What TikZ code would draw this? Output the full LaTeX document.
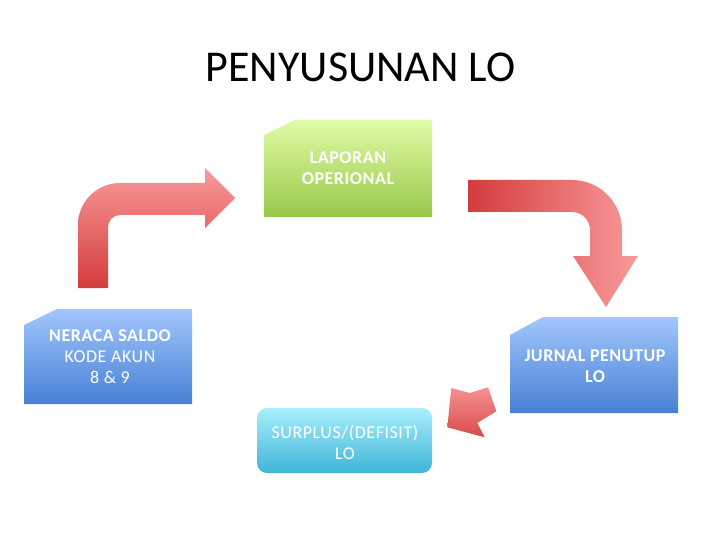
\documentclass[tikz,border=0pt]{standalone}
\usepackage{fontspec}
\setmainfont{Carlito}
\usepackage{xcolor}
\usepackage{tikz}

\definecolor{greentop}{HTML}{DFFCA6}
\definecolor{greenbot}{HTML}{98C84A}
\definecolor{bluetop}{HTML}{A2C6FC}
\definecolor{bluebot}{HTML}{4680D4}
\definecolor{cyantop}{HTML}{A8EFFD}
\definecolor{cyanbot}{HTML}{40B4D6}
\definecolor{redlight}{HTML}{F99A9A}
\definecolor{reddark}{HTML}{D43C3C}

\begin{document}
\begin{tikzpicture}[x=1pt,y=-1pt,
		boxtext/.style={text=white,align=center,font=\fontsize{18}{21}\selectfont\addfontfeatures{LetterSpace=3}},
		redarrow/.style={draw=none}]
		\useasboundingbox (0,0) rectangle (720,540);
		\node (title) at (360.5,67) {\fontsize{44}{50}\selectfont PENYUSUNAN LO};
		% boxes
		\shade[top color=greentop,bottom color=greenbot] (295,120) -- (432,120) -- (432,217) -- (264,217) -- (264,135) -- cycle;
		\node[boxtext] (lap) at (348,168.5) {\bfseries LAPORAN\\\bfseries OPERIONAL};
		\shade[top color=bluetop,bottom color=bluebot] (57,309) -- (192,309) -- (192,404) -- (24,404) -- (24,325) -- cycle;
		\node[boxtext] (ner) at (110,356.5) {\bfseries NERACA SALDO\\KODE AKUN\\8 \& 9};
		\shade[top color=bluetop,bottom color=bluebot] (543,317) -- (678,317) -- (678,413) -- (510,413) -- (510,335) -- cycle;
		\node[boxtext] (jur) at (595,366) {\bfseries JURNAL PENUTUP\\\bfseries LO};
		\shade[top color=cyantop,bottom color=cyanbot,rounded corners=10pt] (257,408) rectangle (432,473);
		\node[boxtext] (sur) at (345,442) {SURPLUS/(DEFISIT)\\LO};
		% arrows
		\shade[redarrow,top color=redlight,middle color=redlight,bottom color=reddark]
			(78,288) -- (78,225) arc[start angle=180,end angle=270,radius=42]
			-- (205,183) -- (205,168) -- (235,198) -- (205,228) -- (205,215)
			-- (120,215) arc[start angle=270,end angle=180,radius=12] -- (108,288) -- cycle;
		\shade[redarrow,left color=reddark,middle color=redlight,right color=redlight]
			(468,180) -- (572,180) arc[start angle=270,end angle=360,radius=50]
			-- (622,256) -- (638,256) -- (606,307) -- (573,256) -- (590,256)
			-- (590,230) arc[start angle=0,end angle=-90,radius=18] -- (468,212) -- cycle;
		\shade[redarrow,shading angle=30,top color=redlight!90!reddark,bottom color=reddark!85!redlight]
			(451.3,388) -- (469.7,393) -- (488,387.3) -- (496.3,411.3) -- (477.3,423)
			-- (484.7,437.3) -- (447.3,427.3) -- cycle;
	\end{tikzpicture}
\end{document}
